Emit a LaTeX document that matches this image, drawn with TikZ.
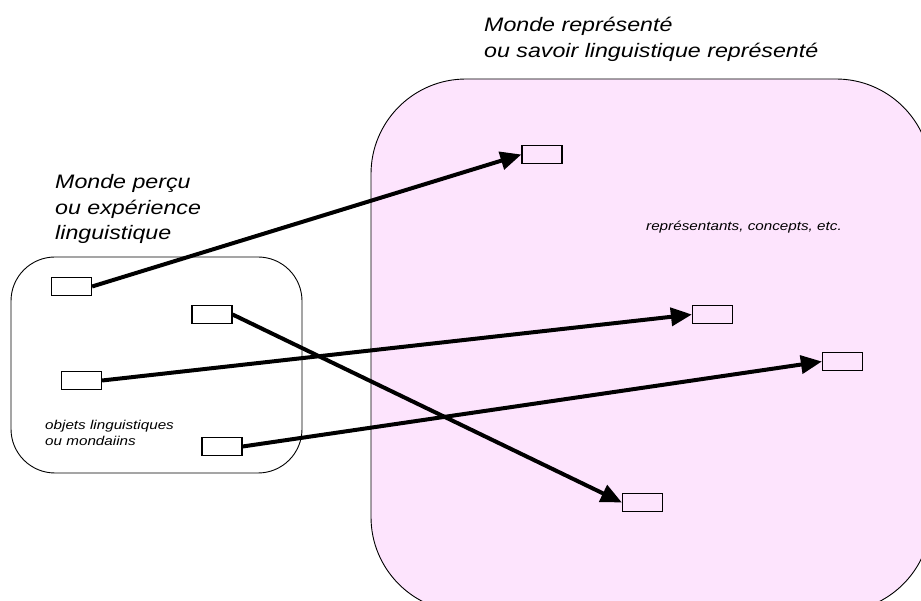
\documentclass[tikz,border=0pt]{standalone}
\usepackage{fontspec}
\setmainfont{Liberation Sans}
\newfontfamily\hv[FakeStretch=1.19]{Liberation Sans}
\usetikzlibrary{arrows.meta}
\definecolor{pinkbg}{RGB}{253,228,253}
\begin{document}
\begin{tikzpicture}[x=1pt,y=-1pt,
  obj/.style={draw=black,line width=1.2pt,minimum width=40pt,minimum height=18pt,inner sep=0pt},
  arr/.style={line width=4pt,-{Triangle[length=21pt,width=18pt]}},
  big/.style={font=\hv\itshape\fontsize{19.5}{26}\selectfont,anchor=base west,inner sep=0pt},
  small/.style={font=\hv\itshape\fontsize{12.8}{16}\selectfont,anchor=base west,inner sep=0pt}]
\useasboundingbox (0,0) rectangle (921,601);
\clip (0,0) rectangle (921,601);
\fill[white] (0,0) rectangle (921,601);
% containers
\draw[fill=pinkbg,line width=0.9pt,rounded corners=95pt] (371,79) rectangle (931,612);
\draw[line width=0.9pt,rounded corners=44pt] (11,257) rectangle (302,473);
% titles
\node[big] (t1) at (484,32) {Monde représenté};
\node[big] (t2) at (484,58) {ou savoir linguistique représenté};
\node[big] (l1) at (55,189) {Monde perçu};
\node[big] (l2) at (55,215) {ou expérience};
\node[big] (l3) at (55,240) {linguistique};
\node[small] (s1) at (45,429) {objets linguistiques};
\node[small] (s2) at (45,445) {ou mondaiins};
\node[small] (r1) at (646,231) {représentants, concepts, etc.};
% objects
\node[obj] (A) at (71.5,286.5) {};
\node[obj] (B) at (212,314.5) {};
\node[obj] (C) at (81.5,380.5) {};
\node[obj] (D) at (222,446.5) {};
\node[obj] (E) at (542,154.5) {};
\node[obj] (F) at (712.5,314.5) {};
\node[obj] (G) at (842.5,361.5) {};
\node[obj] (H) at (642.5,502.5) {};
% arrows
\draw[arr] (A.east) -- (E.west);
\draw[arr] (B.east) -- (H.west);
\draw[arr] (C.east) -- (F.west);
\draw[arr] (D.east) -- (G.west);
\end{tikzpicture}
\end{document}
